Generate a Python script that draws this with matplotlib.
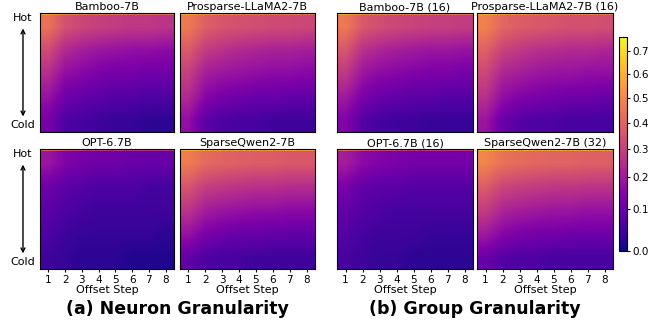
import numpy as np
import matplotlib
matplotlib.use("Agg")
import matplotlib.pyplot as plt
from matplotlib.colors import PowerNorm

# offset steps (columns); rows go from hottest (first) to coldest (last)
steps = [1, 2, 3, 4, 5, 6, 7, 8]

# neuron granularity: first row = hottest neurons (thin top strip), then body rows
bamboo = [
    [0.58, 0.50, 0.47, 0.45, 0.44, 0.43, 0.42, 0.42],
    [0.44, 0.35, 0.32, 0.30, 0.29, 0.28, 0.28, 0.27],
    [0.33, 0.24, 0.21, 0.19, 0.18, 0.17, 0.17, 0.16],
    [0.25, 0.17, 0.15, 0.13, 0.12, 0.12, 0.11, 0.11],
    [0.18, 0.11, 0.09, 0.08, 0.07, 0.07, 0.06, 0.06],
    [0.12, 0.06, 0.05, 0.04, 0.03, 0.03, 0.02, 0.02],
]
prosparse = [
    [0.58, 0.52, 0.50, 0.48, 0.47, 0.46, 0.46, 0.45],
    [0.46, 0.39, 0.36, 0.35, 0.34, 0.33, 0.33, 0.32],
    [0.37, 0.29, 0.26, 0.24, 0.23, 0.22, 0.22, 0.21],
    [0.30, 0.21, 0.19, 0.18, 0.17, 0.16, 0.16, 0.15],
    [0.24, 0.15, 0.12, 0.11, 0.10, 0.10, 0.09, 0.09],
    [0.17, 0.08, 0.06, 0.05, 0.05, 0.04, 0.04, 0.04],
]
opt = [
    [0.40, 0.33, 0.30, 0.28, 0.27, 0.27, 0.26, 0.26],
    [0.19, 0.14, 0.12, 0.11, 0.11, 0.10, 0.10, 0.10],
    [0.11, 0.08, 0.07, 0.06, 0.06, 0.06, 0.05, 0.05],
    [0.08, 0.06, 0.05, 0.04, 0.04, 0.04, 0.04, 0.04],
    [0.06, 0.04, 0.03, 0.03, 0.03, 0.03, 0.03, 0.02],
    [0.04, 0.03, 0.02, 0.02, 0.02, 0.01, 0.01, 0.01],
]
qwen = [
    [0.62, 0.58, 0.57, 0.56, 0.56, 0.55, 0.55, 0.55],
    [0.47, 0.42, 0.40, 0.39, 0.38, 0.38, 0.37, 0.37],
    [0.36, 0.30, 0.28, 0.27, 0.26, 0.26, 0.25, 0.25],
    [0.27, 0.21, 0.19, 0.18, 0.17, 0.17, 0.16, 0.16],
    [0.18, 0.13, 0.11, 0.10, 0.10, 0.09, 0.09, 0.09],
    [0.09, 0.06, 0.05, 0.05, 0.04, 0.04, 0.04, 0.04],
]

# group granularity
bamboo_g = [
    [0.60, 0.52, 0.49, 0.47, 0.46, 0.45, 0.44, 0.44],
    [0.46, 0.37, 0.34, 0.32, 0.31, 0.30, 0.30, 0.29],
    [0.36, 0.26, 0.23, 0.21, 0.20, 0.19, 0.19, 0.18],
    [0.28, 0.19, 0.16, 0.15, 0.14, 0.13, 0.13, 0.12],
    [0.20, 0.13, 0.10, 0.09, 0.08, 0.08, 0.07, 0.07],
    [0.14, 0.07, 0.05, 0.04, 0.04, 0.03, 0.03, 0.03],
]
prosparse_g = [
    [0.60, 0.54, 0.52, 0.50, 0.49, 0.48, 0.48, 0.47],
    [0.48, 0.41, 0.38, 0.37, 0.36, 0.35, 0.35, 0.34],
    [0.39, 0.31, 0.28, 0.26, 0.25, 0.24, 0.24, 0.23],
    [0.32, 0.23, 0.21, 0.19, 0.18, 0.18, 0.17, 0.17],
    [0.26, 0.17, 0.14, 0.13, 0.12, 0.11, 0.11, 0.10],
    [0.19, 0.10, 0.07, 0.06, 0.06, 0.05, 0.05, 0.05],
]
opt_g = [
    [0.42, 0.35, 0.32, 0.30, 0.29, 0.29, 0.28, 0.28],
    [0.21, 0.16, 0.14, 0.13, 0.12, 0.12, 0.12, 0.12],
    [0.13, 0.09, 0.08, 0.08, 0.07, 0.07, 0.07, 0.07],
    [0.09, 0.07, 0.06, 0.05, 0.05, 0.05, 0.05, 0.05],
    [0.07, 0.05, 0.04, 0.04, 0.04, 0.03, 0.03, 0.03],
    [0.05, 0.04, 0.03, 0.03, 0.02, 0.02, 0.02, 0.02],
]
qwen_g = [
    [0.64, 0.60, 0.59, 0.58, 0.58, 0.57, 0.57, 0.57],
    [0.49, 0.44, 0.42, 0.41, 0.40, 0.40, 0.39, 0.39],
    [0.38, 0.32, 0.30, 0.29, 0.28, 0.28, 0.27, 0.27],
    [0.29, 0.23, 0.21, 0.20, 0.19, 0.19, 0.18, 0.18],
    [0.20, 0.15, 0.13, 0.12, 0.12, 0.11, 0.11, 0.11],
    [0.10, 0.07, 0.06, 0.06, 0.05, 0.05, 0.05, 0.05],
]

titles = ["Bamboo-7B", "Prosparse-LLaMA2-7B", "OPT-6.7B", "SparseQwen2-7B",
          "Bamboo-7B (16)", "Prosparse-LLaMA2-7B (16)", "OPT-6.7B (16)", "SparseQwen2-7B (32)"]
datasets = [bamboo, prosparse, opt, qwen, bamboo_g, prosparse_g, opt_g, qwen_g]

W, H = 667, 323
fig = plt.figure(figsize=(W / 100, H / 100), dpi=100)

cols_px = [(40, 174), (180, 315), (337, 473), (477, 613)]
rows_px = [(13, 132), (149, 269)]
strip = 0.02  # height of the hottest strip (fraction of rank axis)

norm = PowerNorm(gamma=0.8, vmin=0.0, vmax=0.76)
cmap = plt.get_cmap("plasma")

img = None
for i, (data, title) in enumerate(zip(datasets, titles)):
    group = i // 4
    k = i % 4
    r = k // 2
    c = group * 2 + k % 2
    x0, x1 = cols_px[c]
    y0, y1 = rows_px[r]
    ax = fig.add_axes([x0 / W, 1 - y1 / H, (x1 - x0) / W, (y1 - y0) / H])
    arr = np.array(data)
    # body
    img = ax.imshow(arr[1:], cmap=cmap, norm=norm, aspect="auto", interpolation="bilinear",
                    extent=(0.5, 8.5, 1.0, strip), origin="upper")
    # hottest strip
    ax.imshow(arr[:1], cmap=cmap, norm=norm, aspect="auto", interpolation="bilinear",
              extent=(0.5, 8.5, strip, 0.0), origin="upper")
    ax.set_xlim(0.5, 8.5)
    ax.set_ylim(1, 0)
    ax.set_yticks([])
    ax.set_title(title, fontsize=8, pad=2)
    if r == 1:
        ax.set_xticks(steps)
        ax.tick_params(axis="x", labelsize=7.5, length=2.5, pad=1.5)
        ax.set_xlabel("Offset Step", fontsize=8, labelpad=0)
    else:
        ax.set_xticks([])
    if c == 0:
        ax.text(-0.127, 0.955, "Hot", transform=ax.transAxes, ha="center", va="center", fontsize=8)
        ax.text(-0.127, 0.06, "Cold", transform=ax.transAxes, ha="center", va="center", fontsize=8)
        ax.annotate("", xy=(-0.127, 0.87), xytext=(-0.127, 0.13), xycoords="axes fraction",
                    textcoords="axes fraction", annotation_clip=False,
                    arrowprops=dict(arrowstyle="<->", lw=1, color="black", shrinkA=0, shrinkB=0,
                                    mutation_scale=7))

cax = fig.add_axes([619 / W, 1 - 251 / H, 8 / W, 214 / H])
cb = fig.colorbar(img, cax=cax, ticks=[0.0, 0.1, 0.2, 0.3, 0.4, 0.5, 0.6, 0.7])
cb.ax.tick_params(labelsize=7.5, length=2.5, pad=1.5)

fig.text(177.5 / W, 1 - 309 / H, "(a) Neuron Granularity", ha="center", va="center",
         fontsize=12.5, fontweight="bold")
fig.text(475 / W, 1 - 309 / H, "(b) Group Granularity", ha="center", va="center",
         fontsize=12.5, fontweight="bold")

fig.savefig("out.png", dpi=100)
